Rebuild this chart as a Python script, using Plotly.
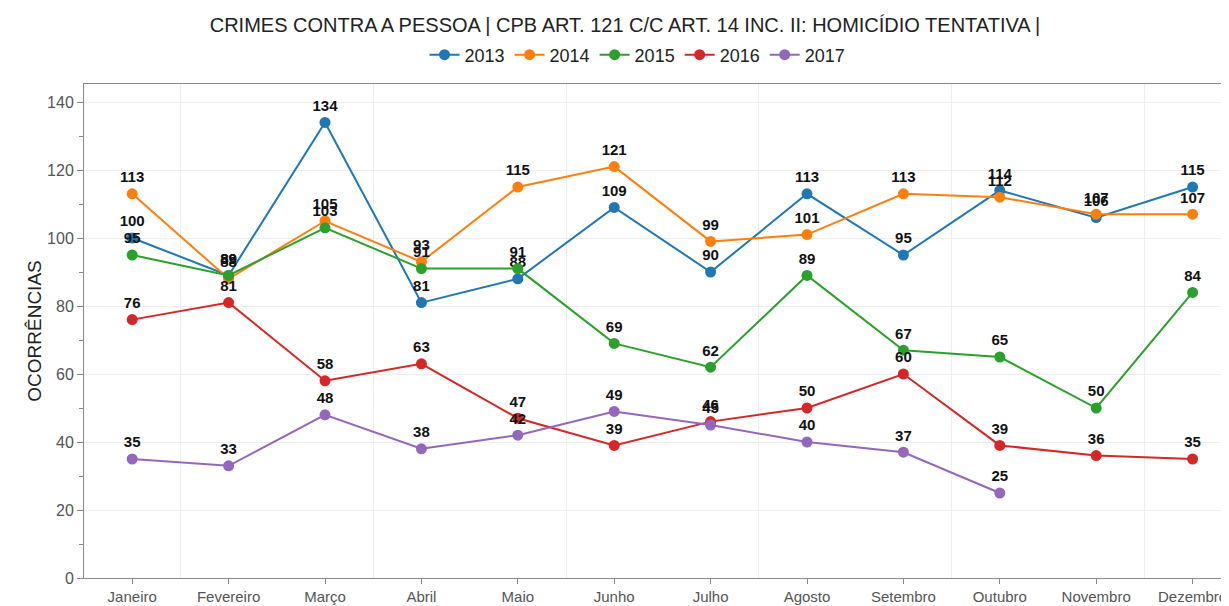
import plotly.graph_objects as go

months = ["Janeiro", "Fevereiro", "Março", "Abril", "Maio", "Junho", "Julho",
          "Agosto", "Setembro", "Outubro", "Novembro", "Dezembro"]
y2013 = [100, 89, 134, 81, 88, 109, 90, 113, 95, 114, 106, 115]
y2014 = [113, 88, 105, 93, 115, 121, 99, 101, 113, 112, 107, 107]
y2015 = [95, 89, 103, 91, 91, 69, 62, 89, 67, 65, 50, 84]
y2016 = [76, 81, 58, 63, 47, 39, 46, 50, 60, 39, 36, 35]
y2017 = [35, 33, 48, 38, 42, 49, 45, 40, 37, 25]

series = [("2013", y2013, "#1f77b4"), ("2014", y2014, "#ff7f0e"),
          ("2015", y2015, "#2ca02c"), ("2016", y2016, "#d62728"),
          ("2017", y2017, "#9467bd")]

# page body has an 8px margin: positions below are in figure coords (screen - 8)
W, H = 1229, 606
L, T, B = 76, 76, 36
STEP = 96.4

fig = go.Figure()
for name, vals, color in series:
    xs = list(range(len(vals)))
    fig.add_trace(go.Scatter(
        x=xs, y=vals, name=name, mode="lines+markers+text",
        text=[str(v) for v in vals], textposition="top center",
        textfont=dict(family="Liberation Sans", size=15, color="#111", weight="bold"),
        line=dict(color=color, width=2),
        marker=dict(color=color, size=11),
        cliponaxis=False,
    ))

fig.update_layout(
    width=W, height=H,
    margin=dict(l=L, r=0, t=T, b=B, autoexpand=False),
    paper_bgcolor="white", plot_bgcolor="white",
    font=dict(family="Liberation Sans", color="#444"),
    title=dict(text="CRIMES CONTRA A PESSOA | CPB ART. 121 C/C ART. 14 INC. II: HOMICÍDIO TENTATIVA |",
               x=(625 - 8) / W, xanchor="center", y=1 - 17 / H, yanchor="middle",
               font=dict(size=20, color="#222")),
    legend=dict(orientation="h", x=(598 - 8) / W, xanchor="center", yref="container",
                y=1 - 47 / H, yanchor="middle",
                font=dict(size=18, color="#222"), itemwidth=30, tracegroupgap=0),
    showlegend=True,
)
fig.update_xaxes(
    automargin=False,
    range=[-0.5, -0.5 + (W - L) / STEP],
    tickmode="array", tickvals=list(range(len(months))), ticktext=months,
    showgrid=False, zeroline=False,
    showline=True, linecolor="#888", linewidth=1, mirror=True,
    ticks="outside", ticklen=5, tickcolor="#888",
    tickfont=dict(size=15, color="#555"),
    minor=dict(tickmode="array", tickvals=[0.5, 2.5, 4.5, 6.5, 8.5, 10.5],
               showgrid=True, gridcolor="#eeeeee", gridwidth=1, ticks=""),
)
fig.update_yaxes(
    automargin=False,
    range=[0, 145.3], dtick=20, tick0=0,
    showgrid=True, gridcolor="#eeeeee", zeroline=False,
    showline=True, linecolor="#888", linewidth=1, mirror=True,
    ticks="outside", ticklen=6, tickcolor="#888",
    tickfont=dict(size=16, color="#555"),
    minor=dict(dtick=10, ticks="outside", ticklen=4, tickcolor="#888", showgrid=False),
    title=dict(text="OCORRÊNCIAS", font=dict(size=19, color="#222"), standoff=0),
)

fig.write_html("out.html")
